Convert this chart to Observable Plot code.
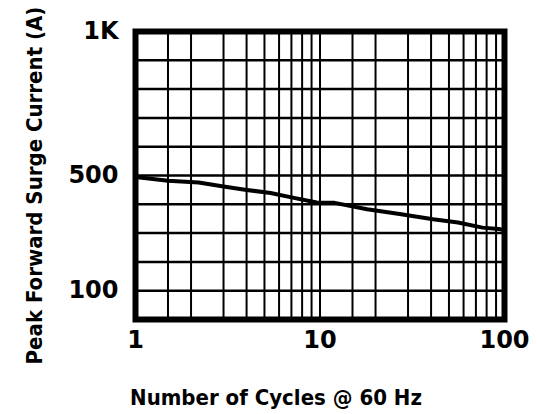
<!DOCTYPE html>
<html>
<head>
<meta charset="utf-8">
<script src="https://cdn.jsdelivr.net/npm/d3@7"></script>
<script src="https://cdn.jsdelivr.net/npm/@observablehq/plot@0.6"></script>
<style>
  html, body { margin: 0; padding: 0; background: #fff; }
  #chart svg { display: block; }
</style>
</head>
<body>
<div id="chart"></div>
<script>
// Data
const cycles  = [1, 1.5, 2.2, 3, 4, 5.4, 7, 9.6, 12, 18, 27, 41, 56, 76, 93, 100];
const current = [495, 482, 476, 462, 450, 439, 424, 406, 405, 383, 366, 348, 337, 319, 314, 311];

const xTicks = [1, 10, 100];
const xTickLabels = ["1", "10", "100"];
const yTicks = [100, 500, 1000];
const yTickLabels = ["100", "500", "1K"];

const xGrid = [1.5, 2, 3, 4, 5, 6, 7, 8, 9, 10, 15, 20, 30, 40, 50, 60, 70, 80, 90];
const yGrid = [100, 200, 300, 400, 500, 600, 700, 800, 900];

const xTitle = "Number of Cycles @ 60 Hz";
const yTitle = "Peak Forward Surge Current (A)";

const data = cycles.map((c, i) => ({cycles: c, current: current[i]}));

const tickFont = "'DejaVu Sans', sans-serif";
const titleFont = "'Liberation Sans Narrow', 'DejaVu Sans Condensed', 'Liberation Sans', sans-serif";

const chart = Plot.plot({
  width: 537,
  height: 414,
  marginLeft: 135,
  marginRight: 33,
  marginTop: 31,
  marginBottom: 95,
  style: {background: "white", color: "black"},
  x: {type: "log", domain: [1, 100]},
  y: {type: "linear", domain: [0, 1000]},
  marks: [
    Plot.ruleX(xGrid, {stroke: "black", strokeWidth: 2}),
    Plot.ruleY(yGrid, {stroke: "black", strokeWidth: 2.5}),
    Plot.line(data, {x: "cycles", y: "current", stroke: "black", strokeWidth: 4}),
    Plot.frame({stroke: "black", strokeWidth: 6}),
    Plot.axisX({
      ticks: xTicks,
      tickFormat: d => xTickLabels[xTicks.indexOf(d)],
      tickSize: 0,
      tickPadding: 11,
      fontSize: 24,
      fontWeight: "bold",
      fontFamily: tickFont,
      label: null
    }),
    Plot.axisY({
      ticks: yTicks,
      tickFormat: d => yTickLabels[yTicks.indexOf(d)],
      tickSize: 0,
      tickPadding: 17,
      fontSize: 24,
      fontWeight: "bold",
      fontFamily: tickFont,
      label: null
    }),
    Plot.text([xTitle], {
      text: d => d,
      frameAnchor: "bottom",
      textAnchor: "middle",
      lineAnchor: "bottom",
      dx: -44,
      dy: 85,
      fontSize: 22,
      fontWeight: "bold",
      fontFamily: titleFont,
      fill: "black"
    }),
    Plot.text([yTitle], {
      text: d => d,
      frameAnchor: "left",
      textAnchor: "middle",
      rotate: -90,
      lineAnchor: "middle",
      dx: -101,
      dy: 10,
      fontSize: 22,
      fontWeight: "bold",
      fontFamily: titleFont,
      fill: "black"
    })
  ]
});

document.getElementById("chart").appendChild(chart);
</script>
</body>
</html>
